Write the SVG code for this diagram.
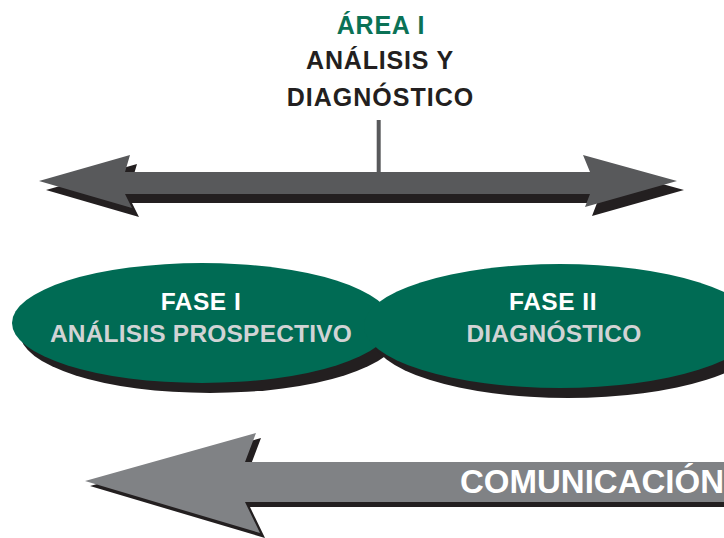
<svg xmlns="http://www.w3.org/2000/svg" width="724" height="538" viewBox="0 0 724 538">
<style>
.t{font-family:"Liberation Sans",Arial,sans-serif;font-weight:bold;text-anchor:middle}
.shadow{fill:#231f20}
.ell{fill:#006b54}
.w{fill:#ffffff}
.lg{fill:#d1d3d4}
</style>
<rect width="724" height="538" fill="#ffffff"/>
<g id="connectors">
<line x1="378.7" y1="120" x2="378.7" y2="173" stroke="#58595b" stroke-width="4"/>
</g>
<g id="area-title">
<text class="t" x="381" y="34" font-size="25" fill="#0b7256" letter-spacing="0.8">ÁREA I</text>
<text class="t" x="380" y="69" font-size="25" fill="#231f20" letter-spacing="0.8">ANÁLISIS Y</text>
<text class="t" x="380.5" y="106" font-size="25" fill="#231f20" letter-spacing="1">DIAGNÓSTICO</text>
</g>
<g id="top-arrow">
<polygon class="shadow" transform="translate(7,9)" points="39,181 130,155 125,172 590,172 583,155 677,181 585,207 590,194 125,194 132,208"/>
<polygon fill="#58595b" points="39,181 130,155 125,172 590,172 583,155 677,181 585,207 590,194 125,194 132,208"/>
</g>
<g id="shadows-phases">
<ellipse class="shadow" cx="210" cy="333" rx="190" ry="60"/>
<ellipse class="shadow" cx="568" cy="336" rx="196" ry="62"/>
</g>
<g id="fase-1">
<ellipse class="ell" cx="202" cy="323" rx="190" ry="60"/>
<text class="t w" x="201" y="310" font-size="24.5" letter-spacing="0.5">FASE I</text>
<text class="t lg" x="201" y="342" font-size="24.5" letter-spacing="0.2">ANÁLISIS PROSPECTIVO</text>
</g>
<g id="fase-2">
<ellipse class="ell" cx="560" cy="326" rx="196" ry="62"/>
<text class="t w" x="553" y="310" font-size="24.5" letter-spacing="0.5">FASE II</text>
<text class="t lg" x="554" y="342" font-size="24.5" letter-spacing="0.2">DIAGNÓSTICO</text>
</g>
<g id="comunicacion">
<polygon class="shadow" transform="translate(5,5)" points="85,481 256,433 245,462 730,462 730,502 245,502 260,533"/>
<polygon fill="#808285" points="85,481 256,433 245,462 730,462 730,502 245,502 260,533"/>
<text class="t w" x="460" y="493" font-size="33" style="text-anchor:start">COMUNICACIÓN</text>
</g>
</svg>
